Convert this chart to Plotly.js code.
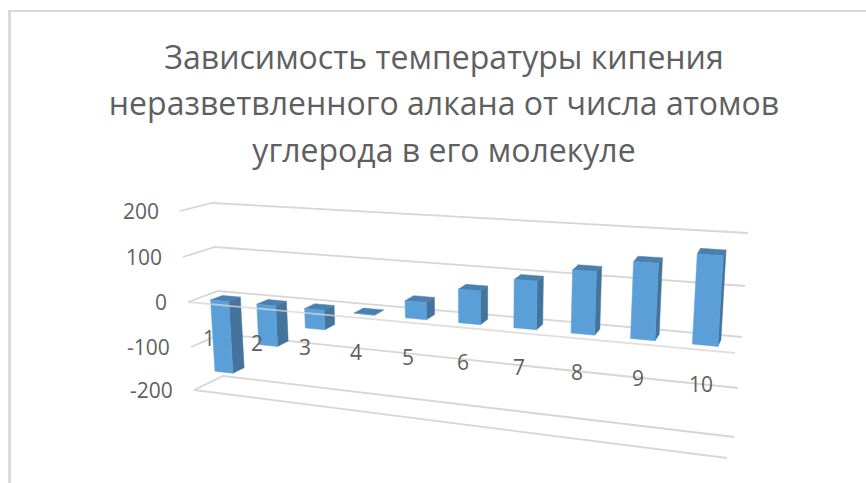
<!DOCTYPE html>
<html>
<head>
<meta charset="utf-8">
<script src="https://cdn.plot.ly/plotly-3.0.1.min.js"></script>
<style>html,body{margin:0;padding:0;background:#fff}#chart{width:866px;height:483px}</style>
</head>
<body>
<div id="chart"></div>
<script>
// Boiling point (°C) of straight-chain alkanes by carbon count
var carbonAtoms = [1, 2, 3, 4, 5, 6, 7, 8, 9, 10];
var boilingPoints = [-162, -89, -42, -0.5, 36, 69, 98, 126, 151, 174];
var axisLevels = [-200, -100, 0, 100, 200];
var titleLines = ['Зависимость температуры кипения', 'неразветвленного алкана от числа атомов', 'углерода в его молекуле'];

// Oblique view of the 3-D plot box: corner screen positions at each axis level
var backLeft   = [[223, 376], [221, 334], [218, 291], [215, 247], [212, 203]];
var backRight  = [[734, 437], [738, 388], [742, 337], [745, 286], [748, 233]];
var frontLeft  = [[194, 390], [191, 347], [188, 302], [183, 257], [180, 211]];
var frontRight = [[727, 458], [731, 406], [735, 353], [739, 300], [742, 248]];
var foreshorten = 1.2;      // categories spread out toward the right
var barSpan = [0.3, 0.7];   // share of a category slot taken by a bar (gap 150%)
var barDepth = [0.3, 0.7];  // same along the depth axis

function corner(table, v) {
  var t = (v - axisLevels[0]) / (axisLevels[1] - axisLevels[0]);
  var i = Math.max(0, Math.min(table.length - 2, Math.floor(t)));
  var f = t - i;
  return [table[i][0] + (table[i + 1][0] - table[i][0]) * f,
          table[i][1] + (table[i + 1][1] - table[i][1]) * f];
}
function lerp(a, b, t) { return [a[0] + (b[0] - a[0]) * t, a[1] + (b[1] - a[1]) * t]; }
// u: 0..1 along categories, w: 0 front .. 1 back, v: axis value
function project(u, w, v) {
  var s = u / (u + (1 - u) * foreshorten);
  var front = lerp(corner(frontLeft, v), corner(frontRight, v), s);
  var back = lerp(corner(backLeft, v), corner(backRight, v), s);
  return lerp(front, back, w);
}

function polyTrace(color) {
  return {type: 'scatter', mode: 'lines', x: [], y: [], fill: 'toself', fillcolor: color,
          line: {color: color, width: 0.5}, hoverinfo: 'skip', showlegend: false};
}
function addPoly(trace, pts) {
  pts.concat([pts[0]]).forEach(function (p) { trace.x.push(p[0]); trace.y.push(p[1]); });
  trace.x.push(null); trace.y.push(null);
}
function lineTrace(paths, width, opacity) {
  var t = {type: 'scatter', mode: 'lines', x: [], y: [], opacity: opacity,
           line: {color: '#d6d6d6', width: width}, hoverinfo: 'skip', showlegend: false};
  paths.forEach(function (path) {
    path.forEach(function (p) { t.x.push(p[0]); t.y.push(p[1]); });
    t.x.push(null); t.y.push(null);
  });
  return t;
}

// Gridlines along the left and back walls, plus the floor edges
var gridPaths = axisLevels.map(function (v) {
  return [project(0, 0, v), project(0, 1, v), project(1, 1, v)];
});
gridPaths.push([project(0, 0, -200), project(1, 0, -200)]);
var zeroEdge = [[project(0, 0, 0), project(1, 0, 0)]];

// Column faces
var sideFaces = polyTrace('#44739c');
var topFaces = polyTrace('#4a80b0');
var frontFaces = polyTrace('#5b9fd8');
boilingPoints.forEach(function (val, i) {
  var n = carbonAtoms.length;
  var u0 = (i + barSpan[0]) / n, u1 = (i + barSpan[1]) / n;
  var w0 = barDepth[0], w1 = barDepth[1];
  var hi = Math.max(val, 0), lo = Math.min(val, 0);
  addPoly(sideFaces, [project(u1, w0, hi), project(u1, w1, hi), project(u1, w1, lo), project(u1, w0, lo)]);
  addPoly(topFaces, [project(u0, w0, hi), project(u0, w1, hi), project(u1, w1, hi), project(u1, w0, hi)]);
  addPoly(frontFaces, [project(u0, w0, hi), project(u1, w0, hi), project(u1, w0, lo), project(u0, w0, lo)]);
});

var textColor = '#5f5f5f';
var fontFamily = '"Open Sans", sans-serif';
var annotations = [];
axisLevels.forEach(function (v) {
  var p = project(0, 0, v);
  annotations.push({x: p[0], y: p[1], xref: 'x', yref: 'y', text: String(v), showarrow: false,
    xanchor: 'right', yanchor: 'middle', xshift: -19, yshift: 0,
    font: {family: fontFamily, size: 21, color: textColor}});
});
carbonAtoms.forEach(function (c, i) {
  var p = project((i + 0.5) / carbonAtoms.length, 0, 0);
  annotations.push({x: p[0], y: p[1], xref: 'x', yref: 'y', text: String(c), showarrow: false,
    xanchor: 'center', yanchor: 'middle', xshift: -1.5, yshift: -34,
    font: {family: fontFamily, size: 21, color: textColor}});
});

// Title lines sit wider apart than their glyph size would give: the outer size sets the spacing
var titleText = titleLines.map(function (s) {
  return '<span style="font-size:32px">' + s + '</span>';
}).join('<br>');

var layout = {
  width: 866, height: 483, margin: {l: 0, r: 0, t: 0, b: 0},
  paper_bgcolor: '#fff', plot_bgcolor: '#fff', showlegend: false,
  title: {text: titleText, x: 444 / 866, xanchor: 'center', y: 0.858, yanchor: 'top',
          font: {family: fontFamily, size: 36, color: textColor}},
  xaxis: {range: [0, 866], visible: false, fixedrange: true},
  yaxis: {range: [483, 0], visible: false, fixedrange: true},
  shapes: [
    {type: 'line', xref: 'x', yref: 'y', x0: 9.5, y0: 483, x1: 9.5, y1: 11, line: {color: '#d9d9d9', width: 3}},
    {type: 'line', xref: 'x', yref: 'y', x0: 8, y0: 11, x1: 866, y1: 11, line: {color: '#d9d9d9', width: 2}}
  ],
  annotations: annotations
};

Plotly.newPlot('chart',
  [lineTrace(gridPaths, 1.8, 1), sideFaces, topFaces, frontFaces, lineTrace(zeroEdge, 1.8, 0.75)],
  layout, {displayModeBar: false, staticPlot: true});
</script>
</body>
</html>
